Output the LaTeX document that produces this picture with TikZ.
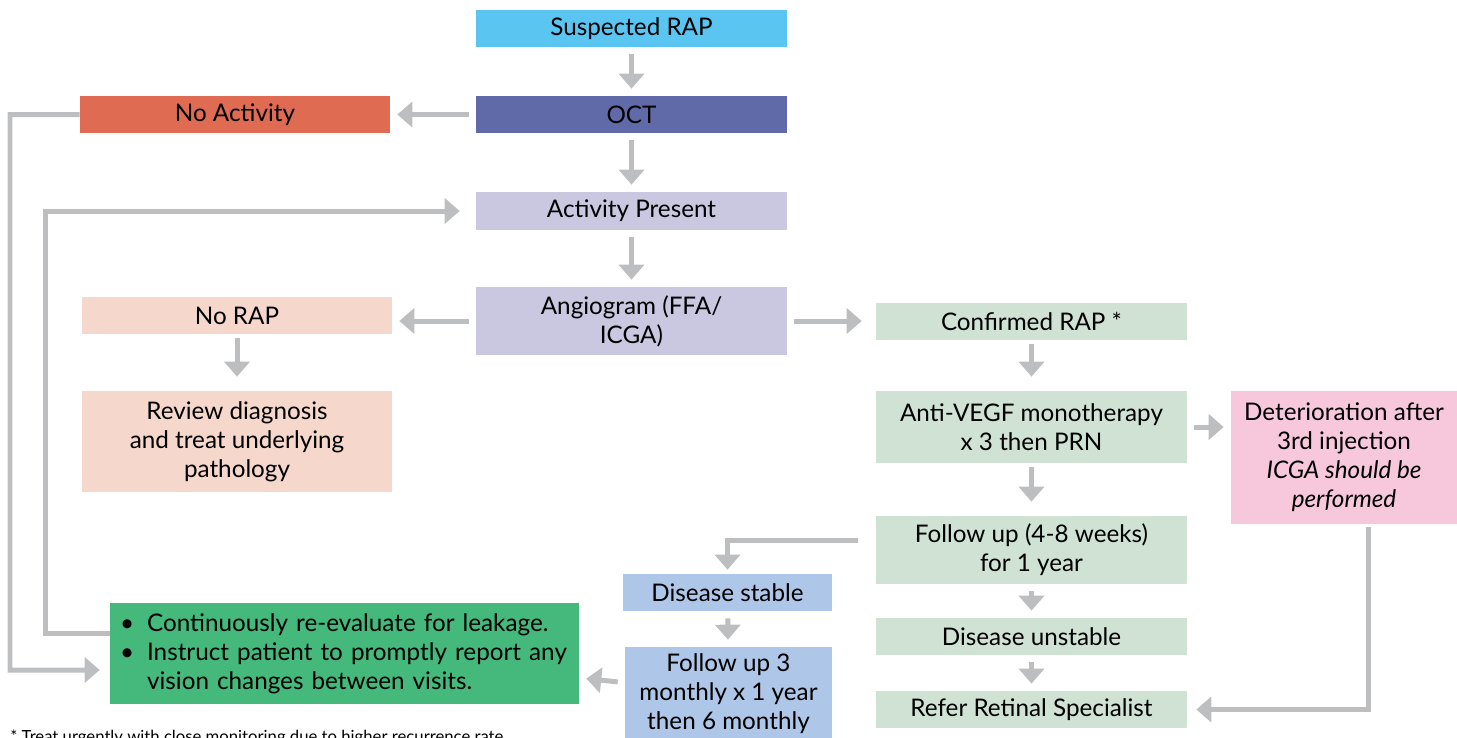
\documentclass[tikz,border=0pt]{standalone}
\usepackage{fontspec}
\setmainfont{Lato}
\usetikzlibrary{arrows.meta}
\definecolor{skyb}{HTML}{5BC5F2}
\definecolor{octb}{HTML}{616AA9}
\definecolor{noact}{HTML}{DF6B53}
\definecolor{lav}{HTML}{CAC7E1}
\definecolor{peach}{HTML}{F5D8CB}
\definecolor{mint}{HTML}{CFE2D4}
\definecolor{pinky}{HTML}{F7C7DC}
\definecolor{paleb}{HTML}{AEC6E7}
\definecolor{grn}{HTML}{44B97B}
\definecolor{arrgray}{HTML}{BDBEC0}
\begin{document}
\begin{tikzpicture}[x=0.02cm,y=-0.02cm,
  box/.style={inner sep=0pt,align=center,font=\fontsize{13.8}{16.5}\selectfont,minimum width=6.22cm,minimum height=0.74cm},
  arr/.style={draw=arrgray,line width=0.1cm,-{Triangle[length=0.3cm,width=0.5cm]},shorten <=0.14cm,shorten >=0.14cm}]
\useasboundingbox (0,0) rectangle (1457,737);
% centre column
\node[box,fill=skyb](sus)at(631.5,28.5){Suspected RAP};
\node[box,fill=octb](oct)at(631.5,114.5){OCT};
\node[box,fill=lav,minimum height=0.76cm](act)at(631.5,211){Activity Present};
\node[box,fill=lav,minimum height=1.36cm](ang)at(631.5,321){Angiogram (FFA/\\ICGA)};
% left side
\node[box,fill=noact,minimum width=6.2cm](noa)at(235,114.5){No Activity};
\node[box,fill=peach,minimum width=6.2cm](norap)at(237,315.5){No RAP};
\node[box,fill=peach,minimum width=6.2cm,minimum height=2.02cm](rev)at(237,441.5){Review diagnosis\\and treat underlying\\pathology};
\node[box,fill=grn,minimum width=9.38cm,minimum height=2.02cm,text width=8.98cm,align=left](cont)at(344.5,653.5)
  {\textbullet\hspace{0.26cm}Continuously re-evaluate for leakage.\\
   \textbullet\hspace{0.26cm}Instruct patient to promptly report any\\
   \phantom{\textbullet}\hspace{0.26cm}vision changes between visits.};
% right side
\node[box,fill=mint](conf)at(1031.5,321.5){Confirmed RAP *};
\node[box,fill=mint,minimum height=1.44cm](anti)at(1031.5,427){Anti-VEGF monotherapy\\x 3 then PRN};
\node[box,fill=pinky,minimum width=4.52cm,minimum height=2.66cm](det)at(1344,457.5)
  {Deterioration after\\3rd injection\\\textit{ICGA should be}\\\textit{performed}};
\node[box,fill=mint,minimum height=1.36cm](fup)at(1031.5,550){Follow up (4-8 weeks)\\for 1 year};
\node[box,fill=mint](unst)at(1031.5,636.5){Disease unstable};
\node[box,fill=mint](refer)at(1031.5,709.5){Refer Retinal Specialist};
\node[box,fill=paleb,minimum width=4.18cm](stab)at(727.5,592.5){Disease stable};
\node[box,fill=paleb,minimum width=4.14cm,minimum height=1.86cm](fup3)at(728.5,693.5){Follow up 3\\monthly x 1 year\\then 6 monthly};
\node[anchor=base west,inner sep=0pt,font=\fontsize{9.5}{11}\selectfont](note)at(10,742)
  {* Treat urgently with close monitoring due to higher recurrence rate};
% arrows
\foreach \a/\b in {sus/oct,oct/act,act/ang,oct/noa,fup/unst,unst/refer,stab/fup3,fup3/cont}
  \draw[arr](\a)--(\b);
\foreach \a/\b in {norap/rev,conf/anti,anti/fup}
  \draw[arr,shorten <=0.08cm,shorten >=0.28cm](\a)--(\b);
\draw[arr](ang.west)--(ang.west-|norap.east);
\draw[arr,shorten >=0.28cm](ang.east)--(ang.east-|conf.west);
\draw[arr](anti.east)--(anti.east-|det.west);
\draw[arr,shorten <=0pt,shorten >=0.2cm](noa.west)-|(10,670)--([yshift=-0.33cm]cont.west);
\draw[arr,shorten <=0pt,shorten >=0.32cm]([yshift=0.41cm]cont.west)-|(45,211)--(act.west);
\draw[arr,shorten <=0pt,shorten >=0.08cm]([xshift=-0.36cm,yshift=0.2cm]fup.west)-|(stab.north);
\draw[arr,shorten <=0.06cm,shorten >=0.18cm]([xshift=0.48cm]det.south)|-(refer.east);
\end{tikzpicture}
\end{document}
